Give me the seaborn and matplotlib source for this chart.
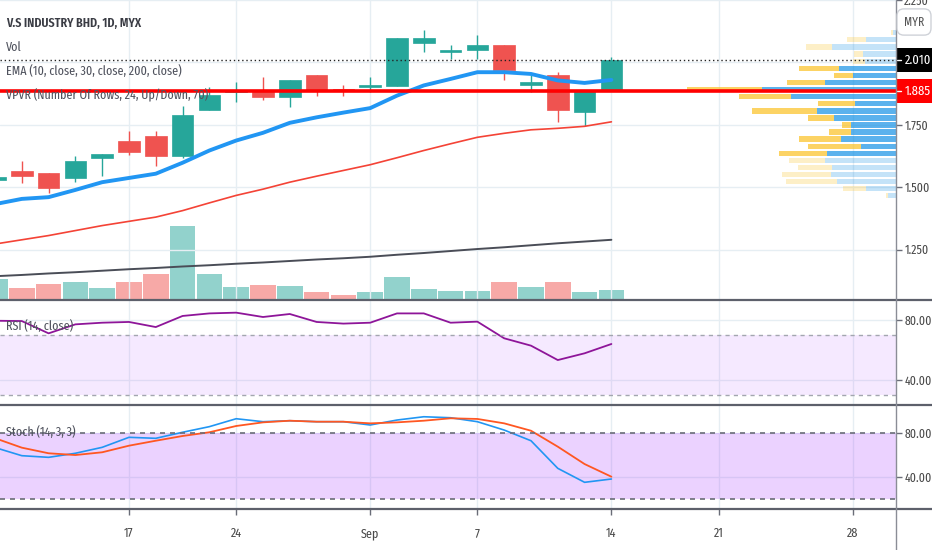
import matplotlib
matplotlib.use("Agg")
import matplotlib.pyplot as plt
import matplotlib.transforms as mtransforms
from matplotlib.patches import Rectangle
from matplotlib.lines import Line2D
from matplotlib import font_manager
import numpy as np
import seaborn as sns

# daily bars, V.S INDUSTRY BHD (MYX)
dates = ["Aug 10", "Aug 11", "Aug 12", "Aug 13", "Aug 14", "Aug 17", "Aug 18", "Aug 19",
         "Aug 21", "Aug 24", "Aug 25", "Aug 26", "Aug 27", "Aug 28", "Sep 1", "Sep 2",
         "Sep 3", "Sep 4", "Sep 7", "Sep 8", "Sep 9", "Sep 10", "Sep 11", "Sep 14"]
future_dates = ["Sep 15", "Sep 17", "Sep 18", "Sep 21", "Sep 22", "Sep 23", "Sep 24",
                "Sep 25", "Sep 28", "Sep 29"]
opens = [1.530, 1.565, 1.555, 1.535, 1.615, 1.685, 1.705, 1.625, 1.810, 1.880, 1.890, 1.860,
         1.950, 1.890, 1.900, 1.905, 2.080, 2.040, 2.050, 2.070, 1.910, 1.950, 1.800, 1.890]
highs = [1.540, 1.605, 1.555, 1.625, 1.635, 1.725, 1.725, 1.825, 1.900, 1.920, 1.940, 1.930,
         1.950, 1.910, 1.940, 2.100, 2.130, 2.070, 2.110, 2.070, 1.950, 1.960, 1.885, 2.020]
lows = [1.530, 1.515, 1.475, 1.520, 1.545, 1.630, 1.585, 1.615, 1.810, 1.840, 1.850, 1.820,
        1.865, 1.865, 1.880, 1.905, 2.040, 2.015, 2.015, 1.930, 1.880, 1.760, 1.745, 1.890]
closes = [1.540, 1.545, 1.495, 1.605, 1.635, 1.640, 1.625, 1.790, 1.870, 1.885, 1.860, 1.930,
          1.890, 1.885, 1.905, 2.100, 2.100, 2.050, 2.070, 1.970, 1.920, 1.810, 1.885, 2.010]
volume = [20.7, 12.3, 16.3, 18.3, 11.7, 18.3, 26.0, 74.3, 26.0, 12.7, 15.0, 14.0,
          8.3, 5.0, 7.7, 23.0, 11.3, 9.3, 9.3, 18.3, 12.7, 17.7, 8.3, 9.7]  # millions

ema10 = [1.432, 1.453, 1.460, 1.489, 1.520, 1.537, 1.554, 1.598, 1.647, 1.687, 1.718, 1.758,
         1.780, 1.799, 1.817, 1.867, 1.908, 1.934, 1.961, 1.961, 1.954, 1.928, 1.918, 1.930]
ema30 = [1.272, 1.289, 1.306, 1.326, 1.346, 1.363, 1.380, 1.406, 1.437, 1.467, 1.492, 1.520,
         1.544, 1.567, 1.590, 1.618, 1.647, 1.674, 1.700, 1.716, 1.730, 1.736, 1.744, 1.762]
ema200 = [1.143, 1.148, 1.154, 1.159, 1.165, 1.171, 1.176, 1.182, 1.187, 1.193, 1.198, 1.204,
          1.210, 1.215, 1.221, 1.229, 1.236, 1.244, 1.252, 1.259, 1.267, 1.275, 1.282, 1.289]

rsi = [79.5, 79.3, 71.1, 77.1, 78.2, 78.7, 75.3, 82.7, 84.4, 84.9, 82.0, 84.0,
       78.7, 77.6, 78.2, 84.4, 84.4, 78.2, 78.9, 67.8, 62.9, 53.3, 57.8, 64.0]
stoch_k = [66.5, 59.1, 57.6, 61.3, 66.7, 75.8, 74.9, 80.4, 85.5, 92.7, 90.0, 90.9,
           90.0, 90.0, 87.0, 91.5, 94.5, 93.6, 90.0, 82.4, 72.7, 47.6, 34.9, 37.9]
stoch_d = [75.0, 66.4, 61.3, 59.7, 62.2, 68.2, 72.7, 77.0, 80.4, 86.1, 89.4, 90.9,
           90.0, 90.0, 88.5, 89.4, 90.9, 93.1, 92.5, 88.5, 81.8, 67.3, 51.5, 40.0]

# VPVR rows (24 rows, up/down volume, 70% value area)
vp_price = [2.119, 2.091, 2.062, 2.034, 2.005, 1.977, 1.949, 1.920, 1.892, 1.863, 1.835, 1.806,
            1.778, 1.750, 1.721, 1.693, 1.664, 1.636, 1.608, 1.579, 1.551, 1.522, 1.494, 1.466]
vp_up = [2.7, 30.0, 64.3, 32.7, 31.0, 57.3, 43.3, 71.3, 134.0, 105.0, 41.0, 79.3,
         62.3, 44.7, 45.0, 55.0, 35.0, 69.3, 71.0, 63.7, 65.0, 59.3, 30.0, 8.3]
vp_down = [2.3, 19.3, 25.7, 9.3, 11.7, 40.0, 18.3, 37.7, 75.0, 51.7, 36.7, 65.0,
           26.0, 9.7, 22.3, 41.7, 53.3, 47.3, 35.7, 34.7, 48.7, 51.0, 22.7, 2.0]
vp_value_area = [False] * 5 + [True] * 13 + [False] * 6
poc_price = 1.885
last_price = 2.010

tick_dates = ["Aug 17", "Aug 24", "Sep 1", "Sep 7", "Sep 14", "Sep 21", "Sep 28"]
tick_labels = ["17", "24", "Sep", "7", "14", "21", "28"]
price_ticks = [1.25, 1.50, 1.75, 2.00, 2.25]

UP, DOWN = "#26a69a", "#ef5350"
GRID = "#e6eef3"
TXT = "#50535e"

sns.set_theme(style="white")
names = {f.name for f in font_manager.fontManager.ttflist}
FONT = "DejaVu Sans"
for cand in ("Fira Sans Extra Condensed", "Fira Sans Condensed", "Archivo Narrow",
             "Liberation Sans Narrow"):
    if cand in names:
        FONT = cand
        break
plt.rcParams["font.family"] = [FONT, "DejaVu Sans"]

W, H = 932, 550
XR = 896  # right price-scale boundary, px
fig = plt.figure(figsize=(W / 100, H / 100), dpi=100)


def pane(top, bottom):
    return [0, 1 - bottom / H, XR / W, (bottom - top) / H]


ax_vol = fig.add_axes(pane(0, 300))
ax = fig.add_axes(pane(0, 300), sharex=ax_vol)
ax.patch.set_visible(False)
ax_vp = ax.twiny()
ax_rsi = fig.add_axes(pane(301, 405), sharex=ax_vol)
ax_st = fig.add_axes(pane(406, 509), sharex=ax_vol)

all_dates = dates + future_dates
x = np.arange(len(dates))
o, h, l, c = map(np.array, (opens, highs, lows, closes))
cols = [UP if cc >= oo else DOWN for oo, cc in zip(o, c)]

# volume (own scale, behind candles)
vol_cols = ["#92d2cc" if cc == UP else "#f7a9a7" for cc in cols]
ax_vol.bar(x, volume, width=0.96, color=vol_cols, linewidth=0)
ax_vol.set_ylim(0, 300)
ax_vol.set_facecolor("white")
ax_vol.axis("off")

# candles
ax.vlines(x, l, h, colors=cols, linewidth=1, zorder=3)
ax.bar(x, np.maximum(np.abs(c - o), 0.008), bottom=np.minimum(o, c), width=0.8,
       color=cols, edgecolor=cols, linewidth=0.5, zorder=4)

sns.lineplot(x=x, y=ema10, ax=ax, color="#2196f3", linewidth=2.8, zorder=5, legend=False)
sns.lineplot(x=x, y=ema30, ax=ax, color="#f44336", linewidth=1.2, zorder=5, legend=False)
sns.lineplot(x=x, y=ema200, ax=ax, color="#4a4d57", linewidth=1.4, zorder=5, legend=False)

ax.set_ylim(1.0476, 2.2505)
ax.set_xlim(0.187, 33.62)
ax.set_yticks(price_ticks)
# 2.000 sits under the last-price box on the scale
ax.set_yticklabels(["" if abs(t - 2.0) < 1e-9 else f"{t:.3f}" for t in price_ticks])
ax.yaxis.tick_right()
ax.set_axisbelow(True)
ax.grid(True, color=GRID, linewidth=1)
ax.set_xlabel("")
ax.set_ylabel("")

# volume profile, anchored on the right edge
ax_vp.set_xlim(XR, 0)
vp_up_cols = [(0.082, 0.573, 0.902, 0.7 if va else 0.25) for va in vp_value_area]
vp_dn_cols = [(0.984, 0.757, 0.137, 0.7 if va else 0.25) for va in vp_value_area]
ax_vp.barh(vp_price, vp_up, left=0, height=0.0215, color=vp_up_cols, linewidth=0)
ax_vp.barh(vp_price, vp_down, left=vp_up, height=0.0215, color=vp_dn_cols, linewidth=0)
ax_vp.axhline(poc_price, color="#ff0000", linewidth=2.6)
ax_vp.axhline(last_price, color="#222222", linewidth=1, linestyle=(0, (1, 2)))
ax_vp.set_xticks([])
ax_vp.tick_params(top=False, labeltop=False)

# price labels on the scale
blend = mtransforms.blended_transform_factory(ax_vp.transAxes, ax_vp.transData)
bw = (W - XR) / XR
for val, fc in ((last_price, "#000000"), (poc_price, "#ff0000")):
    ax_vp.add_patch(Rectangle((1.0008, val - 12 / 249.4), bw, 24 / 249.4, transform=blend,
                              facecolor=fc, edgecolor="none", clip_on=False, zorder=10))
    ax_vp.add_line(Line2D([1.0008, 1.0008 + 4 / XR], [val, val], transform=blend,
                          color="white", linewidth=1, clip_on=False, zorder=11))
    ax_vp.text(1.0008 + 8 / XR, val, f"{val:.3f}", transform=blend, color="white",
               fontsize=9.8, ha="left", va="center", clip_on=False, zorder=11)

# RSI
sns.lineplot(x=x, y=rsi, ax=ax_rsi, color="#8e1599", linewidth=1.3, legend=False)
ax_rsi.axhspan(30, 70, color="#9915ff", alpha=0.09, linewidth=0)
for lv in (70, 30):
    ax_rsi.axhline(lv, color="#a3a6af", linewidth=1, linestyle=(0, (3, 3)))
ax_rsi.set_ylim(23.33, 92.67)
ax_rsi.set_yticks([40, 80])

# Stochastic
ax_st.axhspan(20, 80, color="#9915ff", alpha=0.19, linewidth=0)
sns.lineplot(x=x, y=stoch_k, ax=ax_st, color="#2196f3", linewidth=1.2, legend=False)
sns.lineplot(x=x, y=stoch_d, ax=ax_st, color="#ff5722", linewidth=1.3, legend=False)
for lv in (80, 20):
    ax_st.axhline(lv, color="#6a6d78", linewidth=1.2, linestyle=(0, (3, 3)))
ax_st.set_ylim(10.64, 104.27)
ax_st.set_yticks([40, 80])

for a in (ax_rsi, ax_st):
    a.yaxis.set_major_formatter("{x:.2f}")
    a.yaxis.tick_right()
    a.set_axisbelow(True)
    a.grid(True, color=GRID, linewidth=1)
    a.set_facecolor("none")
    a.set_xlabel("")
    a.set_ylabel("")

ax_st.set_xticks([all_dates.index(d) for d in tick_dates])
ax_st.set_xticklabels(tick_labels)
ax_st.set_xlim(0.187, 33.62)

for a in (ax, ax_rsi, ax_st):
    for s in a.spines.values():
        s.set_visible(False)
    a.tick_params(axis="y", right=True, length=4, width=1, color="#6a6d78",
                  labelsize=9.2, labelcolor="#4a4a4a", pad=2)
for a in (ax, ax_rsi):
    a.tick_params(axis="x", bottom=False, labelbottom=False)
ax_st.tick_params(axis="x", bottom=True, length=4, width=1, color="#6a6d78",
                  labelsize=9.5, labelcolor="#4a4a4a", pad=9)
for s in ax_vp.spines.values():
    s.set_visible(False)

# pane separators and scale border
for yy in (300, 405, 509):
    fig.add_artist(Line2D([0, 1], [1 - yy / H] * 2, transform=fig.transFigure,
                          color="#5d606b", linewidth=1.6))
fig.add_artist(Line2D([XR / W] * 2, [0, 1], transform=fig.transFigure,
                      color="#8a8d96", linewidth=1))

# legends / titles
LS = 9.4
fig.text(6 / W, 1 - 23 / H, "V.S INDUSTRY BHD, 1D, MYX", fontsize=LS, weight="semibold",
         color="#3a3c44", va="center")
fig.text(6 / W, 1 - 47 / H, "Vol", fontsize=LS, color=TXT, va="center")
fig.text(6 / W, 1 - 71 / H, "EMA (10, close, 30, close, 200, close)", fontsize=LS,
         color=TXT, va="center")
fig.text(6 / W, 1 - 95 / H, "VPVR (Number Of Rows, 24, Up/Down, 70)", fontsize=LS,
         color=TXT, va="center")
fig.text(6 / W, 1 - 326 / H, "RSI (14, close)", fontsize=LS, color=TXT, va="center")
fig.text(6 / W, 1 - 432 / H, "Stoch (14, 3, 3)", fontsize=LS, color=TXT, va="center")
fig.text(914 / W, 1 - 22 / H, "MYR", fontsize=9, color="#555555", ha="center", va="center",
         bbox=dict(boxstyle="round,pad=0.55", fc="white", ec="#cfd2d8", lw=1))

fig.savefig("out.png", dpi=100)
